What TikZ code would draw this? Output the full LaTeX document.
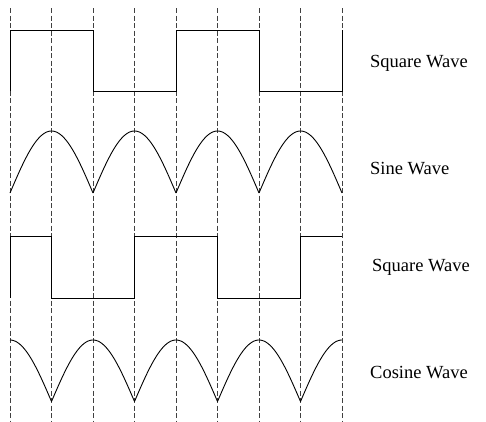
\documentclass[tikz,border=0pt]{standalone}
\usepackage{fontspec}
\setmainfont{Liberation Serif}
\begin{document}
\begin{tikzpicture}[x=1pt,y=-1pt,
  grid/.style={dash pattern=on 5pt off 2.5pt, line width=0.7pt, draw=black!75},
  wave/.style={line width=0.9pt, draw=black},
  lbl/.style={anchor=base west, font=\fontsize{18.5}{22}\selectfont, inner sep=0pt}]
\useasboundingbox (0,0) rectangle (486,421);
% dashed verticals
\foreach \i in {0,...,8} {
  \coordinate (t\i) at ({10+41.5*\i},8);
  \coordinate (b\i) at ({10+41.5*\i},421);
  \draw[grid] (t\i) -- (b\i);
}
% square wave 1
\draw[wave] (10,91) -- (10,30) -- (93,30) -- (93,91) -- (176,91) -- (176,30) -- (259,30) -- (259,91) -- (342,91) -- (342,30);
% sine wave
\foreach \k in {0,...,3} {
  \draw[wave] plot[domain={10+83*\k}:{93+83*\k}, samples=60, smooth] (\x,{193-62*abs(sin((\x-10)/83*180))});
}
% square wave 2
\draw[wave] (10,298) -- (10,236) -- (51.5,236) -- (51.5,298) -- (134.5,298) -- (134.5,236) -- (217.5,236) -- (217.5,298) -- (300.5,298) -- (300.5,236) -- (342,236);
% cosine wave
\draw[wave] plot[domain=10:51.5, samples=40, smooth] (\x,{401.5-61.5*abs(cos((\x-10)/83*180))});
\foreach \k in {0,...,2} {
  \draw[wave] plot[domain={51.5+83*\k}:{134.5+83*\k}, samples=60, smooth] (\x,{401.5-61.5*abs(cos((\x-10)/83*180))});
}
\draw[wave] plot[domain=300.5:342, samples=40, smooth] (\x,{401.5-61.5*abs(cos((\x-10)/83*180))});
% labels
\node[lbl] (l1) at (370,67) {Square Wave};
\node[lbl] (l2) at (370,174) {Sine Wave};
\node[lbl] (l3) at (372,271) {Square Wave};
\node[lbl] (l4) at (370,378) {Cosine Wave};
\end{tikzpicture}
\end{document}
